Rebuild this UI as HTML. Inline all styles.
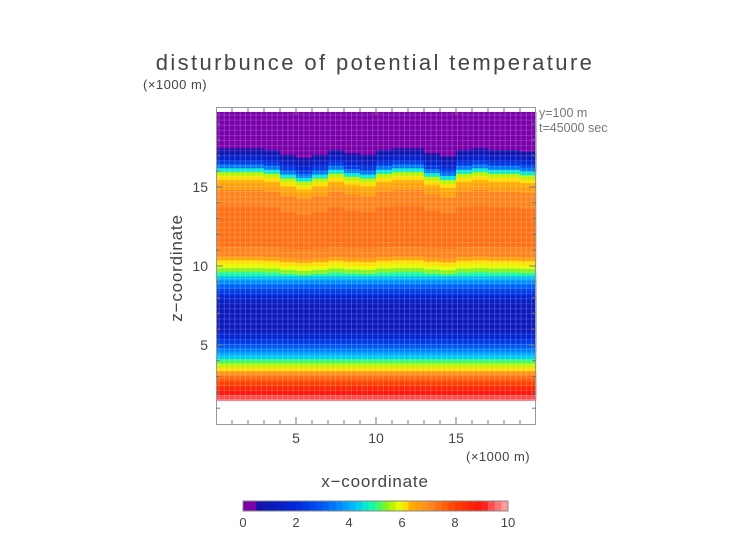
<!DOCTYPE html>
<html><head><meta charset="utf-8"><style>
body{margin:0;background:#fff;width:752px;height:532px;overflow:hidden;font-family:"Liberation Sans",sans-serif;}
svg text{font-family:"Liberation Sans",sans-serif;fill:#444;}
</style></head><body>
<svg id="chart" width="752" height="532">
<text x="375" y="70" text-anchor="middle" font-size="22" letter-spacing="2.4">disturbunce of potential temperature</text>
<text x="143" y="89" font-size="13" letter-spacing="0.5">(×1000 m)</text>
<text x="539" y="117" font-size="12.5" style="fill:#777">y=100 m</text>
<text x="539" y="132" font-size="12.5" style="fill:#777">t=45000 sec</text>
<g id="field"></g>
<g id="grid"></g>
<g id="axes"></g>
<text x="375" y="487" text-anchor="middle" font-size="17" letter-spacing="0.8">x−coordinate</text>
<text x="466" y="461" font-size="13" letter-spacing="0.5">(×1000 m)</text>
<text transform="translate(182,268) rotate(-90)" text-anchor="middle" font-size="17" letter-spacing="0.8">z−coordinate</text>
<g id="cbar"></g>
</svg>
<script>
// z levels (km) and profile values of the field
const zLevels = [1.5,1.75,2,2.25,2.5,2.75,3,3.25,3.5,3.75,4,4.25,4.5,4.75,5,5.25,5.5,5.75,6,6.5,7,7.5,8,8.25,8.5,8.75,9,9.25,9.5,9.75,10,10.25,10.5,10.75,11,11.5,12,12.5,13,13.5,14,14.5,15,15.25,15.5,15.75,16,16.25,16.5,16.75,17,17.25,17.5,18,18.5,19,19.75];
const profile = [9.6,9.3,8.8,8.5,8.2,7.8,7.3,6.8,6.2,5.7,5.2,4.4,3.8,3.3,2.8,2.4,1.9,1.5,1.1,1.0,1.0,1.1,1.5,2.0,2.5,3.0,3.6,4.2,4.8,5.3,5.8,6.2,6.6,7.0,7.2,7.3,7.3,7.4,7.3,7.3,7.2,7.0,6.7,6.4,6.1,5.6,4.6,3.4,2.3,1.5,1.1,0.7,0.3,0.2,0.2,0.2,0.2];
// vertical displacement (km) of upper layers by x (km)
const xCenters = [0.5,1.5,2.5,3.5,4.5,5.5,6.5,7.5,8.5,9.5,10.5,11.5,12.5,13.5,14.5,15.5,16.5,17.5,18.5,19.5];
const shift = [0.1,0.1,0.1,0.0,-0.3,-0.5,-0.3,0.0,-0.2,-0.3,0.0,0.1,0.1,-0.2,-0.4,0.0,0.1,0.0,0.0,-0.1];
const cbTicks = [0,2,4,6,8,10];
const colorStops = [[0,"#7a00aa"],[0.49,"#7a00aa"],[0.5,"#1410a8"],[2,"#0028d8"],[3,"#0058f4"],[4,"#00a8ff"],[4.5,"#00e0e8"],[5,"#20ff90"],[5.5,"#a0f000"],[6,"#ffff00"],[6.3,"#ffb000"],[7,"#ff8c20"],[8,"#ff4000"],[9,"#ff1010"],[10,"#ffb0b0"]];
const NS="http://www.w3.org/2000/svg";
const X=v=>216+v*16, Y=v=>424-v*15.8;
function hex(c){return [1,3,5].map(i=>parseInt(c.substr(i,2),16));}
function color(v){
  v=Math.floor(v*4)/4+0.125;
  for(let i=0;i<colorStops.length-1;i++){const a=colorStops[i],b=colorStops[i+1];
    if(v<=b[0]){const t=Math.max(0,(v-a[0])/(b[0]-a[0]));const A=hex(a[1]),B=hex(b[1]);
      return "rgb("+A.map((c,j)=>Math.round(c+(B[j]-c)*t)).join(",")+")";}}
  return colorStops[colorStops.length-1][1];}
function mk(tag,at,parent){const e=document.createElementNS(NS,tag);for(const k in at)e.setAttribute(k,at[k]);parent.appendChild(e);return e;}
const field=document.getElementById('field');
xCenters.forEach((xc,i)=>{
  for(let j=0;j<zLevels.length;j++){
    const sAt = z => z>12.5 ? shift[i] : (z>9.5 ? shift[i]*0.3 : 0);
    const zm0=j==0?zLevels[0]:(zLevels[j-1]+zLevels[j])/2;
    const zm1=j==zLevels.length-1?19.75:(zLevels[j]+zLevels[j+1])/2;
    const z0=j==0?zm0:zm0+sAt(zm0);
    const z1=Math.min(19.75, j==zLevels.length-1?zm1:zm1+sAt(zm1));
    const r=mk('rect',{x:X(xc-0.5),y:Y(z1),width:16.3,height:Math.max(0,Y(z0)-Y(z1)+0.6),fill:color(profile[j])},field);
    
    
  }
});
const grid=document.getElementById('grid');
for(let x=219;x<536;x+=5.3){mk('line',{x1:x,x2:x,y1:112,y2:400,stroke:"#fff","stroke-opacity":0.2,"stroke-width":1},grid);}
for(let y=115;y<400;y+=5.1){mk('line',{x1:216,x2:536,y1:y,y2:y,stroke:"#fff","stroke-opacity":0.15,"stroke-width":1},grid);}
const axes=document.getElementById('axes');
mk('rect',{x:216.5,y:107.5,width:319,height:317,fill:"none",stroke:"#999","stroke-width":1},axes);
for(let v=1;v<20;v++){const len=v%5==0?7:4;
  mk('line',{x1:X(v),x2:X(v),y1:424,y2:424-len,stroke:"#777"},axes);
  mk('line',{x1:X(v),x2:X(v),y1:108,y2:108+len,stroke:"#777"},axes);
  mk('line',{x1:216,x2:216+len,y1:Y(v),y2:Y(v),stroke:"#777"},axes);
  mk('line',{x1:536,x2:536-len,y1:Y(v),y2:Y(v),stroke:"#777"},axes);}
[5,10,15].forEach(v=>{
  const t=mk('text',{x:X(v),y:443,"text-anchor":"middle","font-size":14},axes);t.textContent=v;
  
  const u=mk('text',{x:208,y:Y(v)+5,"text-anchor":"end","font-size":14},axes);u.textContent=v;
  });
const cb=document.getElementById('cbar');
for(let v=0;v<10;v+=0.25){const r=mk('rect',{x:243+v*26.5,y:501,width:6.9,height:10,fill:color(v)},cb);
  }
mk('rect',{x:243,y:501,width:265,height:10,fill:"none",stroke:"#888"},cb);
cbTicks.forEach(v=>{const t=mk('text',{x:243+v*26.5,y:527,"text-anchor":"middle","font-size":13},cb);t.textContent=v;
  });
</script>
</body></html>
